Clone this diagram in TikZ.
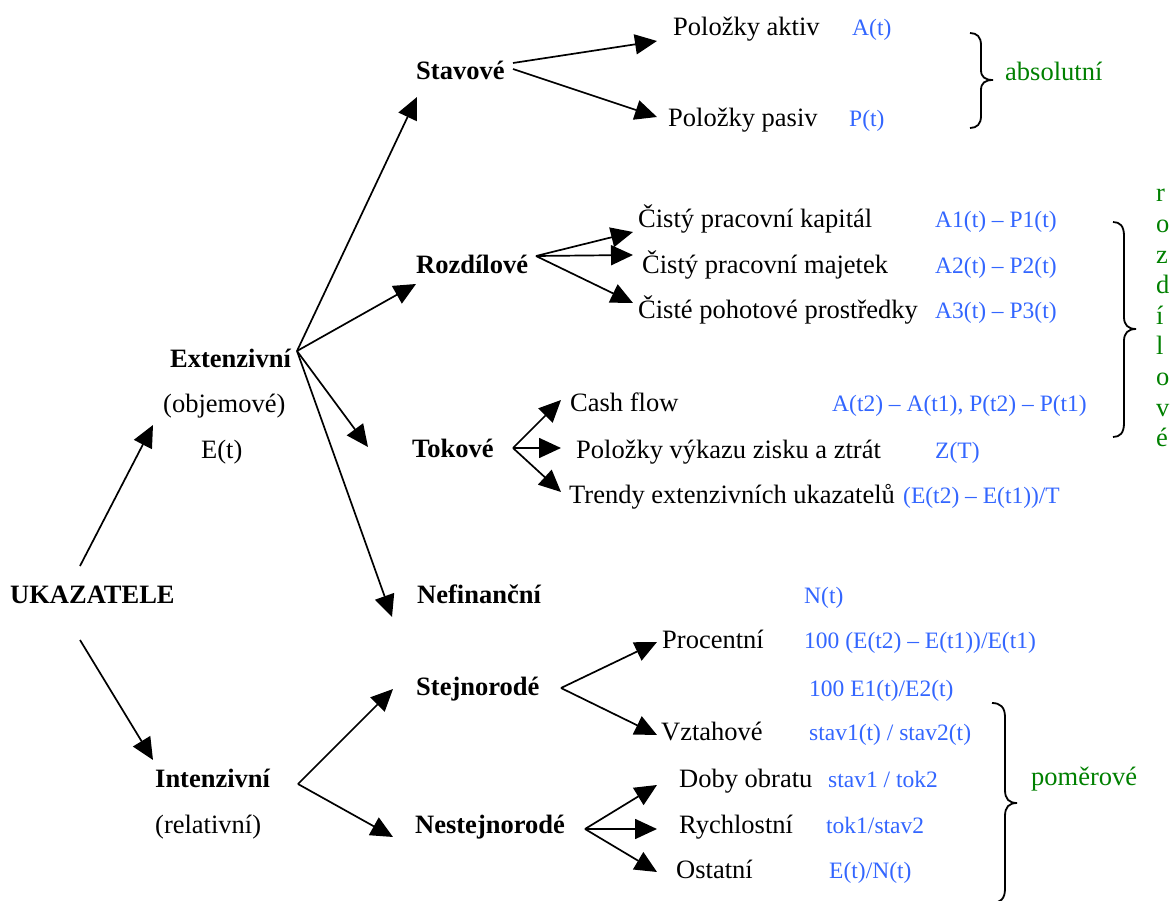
\documentclass[tikz,border=0pt]{standalone}
\usepackage{fontspec}
\setmainfont{Liberation Serif}
\usetikzlibrary{arrows.meta}
\definecolor{fblue}{RGB}{51,102,255}
\definecolor{fgreen}{RGB}{0,128,0}
\begin{document}
\begin{tikzpicture}[x=1pt,y=-1pt,
  lbl/.style={inner sep=0pt, anchor=base west, font=\fontsize{26.5}{30}\selectfont},
  hd/.style={inner sep=0pt, anchor=base west, font=\fontsize{26.5}{30}\selectfont\bfseries},
  fm/.style={inner sep=0pt, anchor=base west, text=fblue, font=\fontsize{23.5}{28}\selectfont},
  grp/.style={lbl, text=fgreen},
  arr/.style={line width=1.7pt, -{Triangle[length=22pt,width=20pt]}},
  brc/.style={line width=1.8pt}]
\useasboundingbox (0,0) rectangle (1173,901);
\clip (0,0) rectangle (1173,901);
% headers
\node[hd] (ukaz) at (10,603) {UKAZATELE};
\node[hd] (ext) at (170,367) {Extenzivní};
\node[lbl] (obj) at (163,412) {(objemové)};
\node[lbl] (et) at (201,458) {E(t)};
\node[hd] (int) at (155,787) {Intenzivní};
\node[lbl] (rel) at (155,833) {(relativní)};
\node[hd] (stav) at (416,80) {Stavové};
\node[hd] (rozd) at (416,274) {Rozdílové};
\node[hd] (tok) at (412,457) {Tokové};
\node[hd] (nefin) at (417,603) {Nefinanční};
\node[hd] (stej) at (416,695) {Stejnorodé};
\node[hd] (nestej) at (415,833) {Nestejnorodé};
% leaves
\node[lbl] (pa) at (673,36) {Položky aktiv};
\node[fm] (paf) at (852,36) {A(t)};
\node[lbl] (pp) at (668,127) {Položky pasiv};
\node[fm] (ppf) at (849,127) {P(t)};
\node[lbl] (cpk) at (638,228) {Čistý pracovní kapitál};
\node[fm] (cpkf) at (935,228) {A1(t) – P1(t)};
\node[lbl] (cpm) at (642,274) {Čistý pracovní majetek};
\node[fm] (cpmf) at (935,274) {A2(t) – P2(t)};
\node[lbl] (cpp) at (638,319) {Čisté pohotové prostředky};
\node[fm] (cppf) at (935,319) {A3(t) – P3(t)};
\node[lbl] (cf) at (570,411) {Cash flow};
\node[fm] (cff) at (832,411) {A(t2) – A(t1), P(t2) – P(t1)};
\node[lbl] (vzz) at (576,458) {Položky výkazu zisku a ztrát};
\node[fm] (vzzf) at (935,458) {Z(T)};
\node[lbl] (tr) at (569,503) {Trendy extenzivních ukazatelů};
\node[fm] (trf) at (903,503) {(E(t2) – E(t1))/T};
\node[fm] (nefinf) at (804,603) {N(t)};
\node[lbl] (proc) at (662,648) {Procentní};
\node[fm] (procf) at (804,648) {100 (E(t2) – E(t1))/E(t1)};
\node[fm] (stejf) at (809,696) {100 E1(t)/E2(t)};
\node[lbl] (vzt) at (661,740) {Vztahové};
\node[fm] (vztf) at (809,740) {stav1(t) / stav2(t)};
\node[lbl] (dob) at (679,787) {Doby obratu};
\node[fm] (dobf) at (828,787) {stav1 / tok2};
\node[lbl] (rych) at (679,833) {Rychlostní};
\node[fm] (rychf) at (826,833) {tok1/stav2};
\node[lbl] (ost) at (676,878) {Ostatní};
\node[fm] (ostf) at (829,878) {E(t)/N(t)};
\node[grp] (abs) at (1005,81) {absolutní};
\node[grp] (pom) at (1031,785) {poměrové};
\foreach \l [count=\i] in {r,o,z,d,í,l,o,v,é}
  \node[grp] (rz\i) at (1156,{202+30.6*(\i-1)}) {\l};
% coordinates
\coordinate (uA) at (80,566); \coordinate (uAt) at (153,425);
\coordinate (uB) at (80,640); \coordinate (uBt) at (153,760);
\coordinate (eA) at (297,351);
\coordinate (eT1) at (417,97); \coordinate (eT2) at (416,284);
\coordinate (eT3) at (368,447); \coordinate (eT4) at (392,617);
\coordinate (sA1) at (513,63); \coordinate (sA2) at (513,69);
\coordinate (sT1) at (657,41); \coordinate (sT2) at (657,117);
\coordinate (rA) at (536,256);
\coordinate (rT1) at (633,232); \coordinate (rT2) at (633,255); \coordinate (rT3) at (633,303);
\coordinate (tA) at (513,448);
\coordinate (tT1) at (561,400); \coordinate (tT2) at (561,448); \coordinate (tT3) at (561,492);
\coordinate (iA) at (298,784);
\coordinate (iT1) at (393,689); \coordinate (iT2) at (393,837);
\coordinate (jA) at (561,688);
\coordinate (jT1) at (657,642); \coordinate (jT2) at (657,735);
\coordinate (nA) at (585,829);
\coordinate (nT1) at (657,785); \coordinate (nT2) at (657,829); \coordinate (nT3) at (657,872);
% arrows
\draw[arr] (uA) -- (uAt);
\draw[arr] (uB) -- (uBt);
\foreach \t in {eT1,eT2,eT3,eT4} \draw[arr] (eA) -- (\t);
\draw[arr] (sA1) -- (sT1);
\draw[arr] (sA2) -- (sT2);
\foreach \t in {rT1,rT2,rT3} \draw[arr] (rA) -- (\t);
\foreach \t in {tT1,tT2,tT3} \draw[arr] (tA) -- (\t);
\foreach \t in {iT1,iT2} \draw[arr] (iA) -- (\t);
\foreach \t in {jT1,jT2} \draw[arr] (jA) -- (\t);
\foreach \t in {nT1,nT2,nT3} \draw[arr] (nA) -- (\t);
% braces
\draw[brc] (970,33) .. controls (977,33) and (981,37) .. (981,45) -- (981,70) .. controls (981,77) and (985,80) .. (993,80) .. controls (985,80) and (981,83) .. (981,90) -- (981,116) .. controls (981,124) and (977,128) .. (970,128);
\draw[brc] (1113,222) .. controls (1120,222) and (1124,226) .. (1124,236) -- (1124,317) .. controls (1124,325) and (1128,329) .. (1136,329) .. controls (1128,329) and (1124,333) .. (1124,341) -- (1124,423) .. controls (1124,433) and (1120,437) .. (1113,437);
\draw[brc] (992,703) .. controls (1000,703) and (1005,707) .. (1005,717) -- (1005,790) .. controls (1005,799) and (1009,803) .. (1017,803) .. controls (1009,803) and (1005,807) .. (1005,816) -- (1005,889) .. controls (1005,899) and (1000,903) .. (992,903);
\end{tikzpicture}
\end{document}
